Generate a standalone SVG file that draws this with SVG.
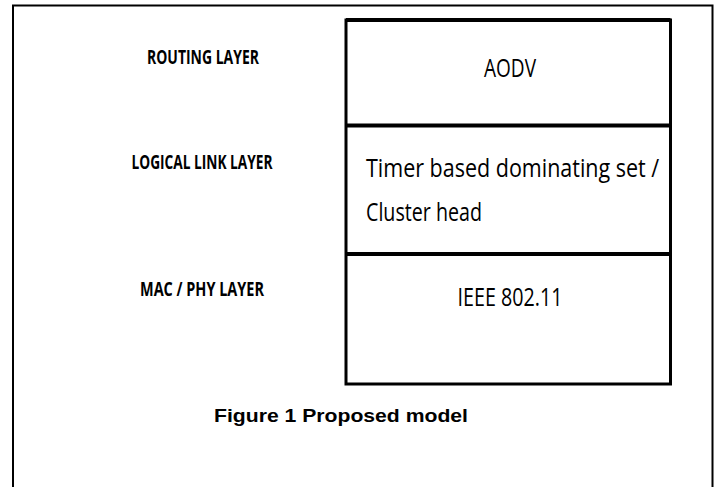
<svg xmlns="http://www.w3.org/2000/svg" width="719" height="487" viewBox="0 0 719 487">
  <style>
    .frame { fill: none; stroke: #000; stroke-width: 2; }
    .box { fill: #fff; stroke: #000; stroke-width: 3; }
    .div { stroke: #000; stroke-width: 4; }
    .layer { font-family: "Open Sans", "Liberation Sans", sans-serif; font-weight: bold; font-size: 20px; fill: #000; text-anchor: middle; }
    .proto { font-family: "Open Sans", "Liberation Sans", sans-serif; font-size: 26px; fill: #000; }
    .proto-narrow { font-family: "Open Sans", "Liberation Sans", sans-serif; font-size: 21.5px; fill: #000; }
    .caption { font-family: "Liberation Sans", Arial, sans-serif; font-weight: bold; font-size: 18px; fill: #000; text-anchor: middle; }
  </style>
  <!-- outer figure frame, open at the bottom -->
  <path class="frame" d="M13,487 V5.5 H712.5 V487"/>

  <!-- layer names -->
  <g id="layer-labels">
    <text class="layer" x="203" y="64" textLength="112" lengthAdjust="spacingAndGlyphs">ROUTING LAYER</text>
    <text class="layer" x="202" y="169" textLength="141" lengthAdjust="spacingAndGlyphs">LOGICAL LINK LAYER</text>
    <text class="layer" x="202" y="296" textLength="124" lengthAdjust="spacingAndGlyphs">MAC / PHY LAYER</text>
  </g>

  <!-- protocol stack -->
  <g id="stack">
    <rect class="box" x="346" y="20" width="324.5" height="364"/>
    <line class="div" x1="346" y1="20" x2="670.5" y2="20"/>
    <line class="div" x1="346" y1="125.5" x2="670.5" y2="125.5"/>
    <line class="div" x1="346" y1="254" x2="670.5" y2="254"/>
  </g>
  <g id="aodv">
    <text class="proto" x="510" y="77" text-anchor="middle" textLength="52" lengthAdjust="spacingAndGlyphs">AODV</text>
  </g>
  <g id="dominating-set">
    <!-- narrow face: tall glyphs drawn by stretching a smaller size vertically -->
    <text class="proto-narrow" transform="translate(366,177) scale(1,1.21)" x="0" y="0">Timer based dominating set /</text>
    <text class="proto" x="366" y="221" textLength="116" lengthAdjust="spacingAndGlyphs">Cluster head</text>
  </g>
  <g id="ieee">
    <text class="proto" x="510" y="306" text-anchor="middle" textLength="105" lengthAdjust="spacingAndGlyphs">IEEE 802.11</text>
  </g>

  <text class="caption" x="341" y="422" textLength="254" lengthAdjust="spacingAndGlyphs">Figure 1 Proposed model</text>
</svg>
